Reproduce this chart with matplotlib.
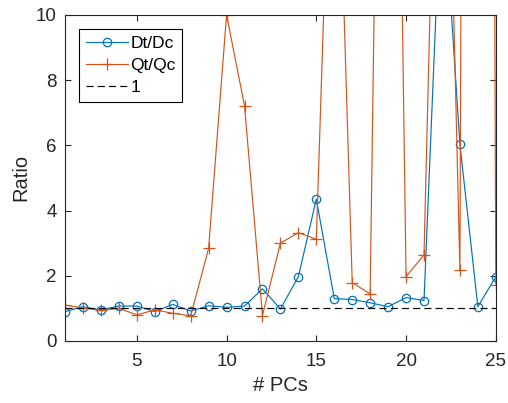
import numpy as np
import matplotlib
matplotlib.use('Agg')
import matplotlib.pyplot as plt

plt.rcParams['font.family'] = ['Liberation Sans', 'DejaVu Sans']

# data
n_pcs = np.arange(1, 26)
dt_dc = [0.90, 1.05, 0.95, 1.07, 1.07, 0.90, 1.12, 0.92, 1.08, 1.03,
         1.07, 1.60, 0.98, 1.97, 4.35, 1.30, 1.27, 1.17, 1.05, 1.33,
         1.24, 14.5, 6.03, 1.05, 1.97]
qt_qc = [1.10, 1.01, 0.94, 1.00, 0.80, 0.95, 0.85, 0.77, 2.84, 10.0,
         7.21, 0.78, 3.00, 3.32, 3.12, 20.0, 1.79, 1.44, 41.0, 1.97,
         2.64, 25.0, 2.18, 150.0, 1.72]
ref_level = 1

blue = '#0072BD'
orange = '#D95319'
axcol = '#262626'

fig = plt.figure(figsize=(5.08, 4.03), dpi=100)
ax = fig.add_axes([0.128, 0.154, 0.848, 0.809])

ax.plot(n_pcs, dt_dc, color=blue, linewidth=0.85, marker='o', markersize=6,
        markerfacecolor='none', markeredgewidth=0.9, label='Dt/Dc')
ax.plot(n_pcs, qt_qc, color=orange, linewidth=0.85, marker='+', markersize=9,
        markeredgewidth=0.9, label='Qt/Qc')
ax.plot([n_pcs[0], n_pcs[-1]], [ref_level, ref_level], color='black',
        linestyle=(0, (6, 3.5)), linewidth=0.85, label='1')

ax.set_xlim(1, 25)
ax.set_ylim(0, 10)
ax.set_xticks([5, 10, 15, 20, 25])
ax.set_yticks([0, 2, 4, 6, 8, 10])
ax.tick_params(direction='in', top=True, right=True, length=4, width=0.8,
               labelsize=13.5, colors=axcol)
ax.tick_params(axis='x', pad=9)
ax.tick_params(axis='y', pad=6)
for sp in ax.spines.values():
    sp.set_color(axcol)
    sp.set_linewidth(0.8)

ax.set_xlabel('# PCs', fontsize=14.5, color=axcol, labelpad=4)
ax.set_ylabel('Ratio', fontsize=14.5, color=axcol, labelpad=4)

leg = ax.legend(loc='upper left', fontsize=12.5, fancybox=False, framealpha=1,
                edgecolor='black', handlelength=2.4, borderaxespad=0.8,
                labelspacing=0.4, handletextpad=0.15, borderpad=0.4)
leg.get_frame().set_linewidth(0.8)

fig.savefig('out.png', dpi=100)
